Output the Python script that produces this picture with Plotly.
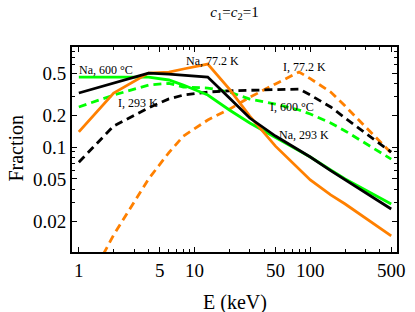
import numpy as np
import plotly.graph_objects as go

# Energy grid (keV)
energy = [1, 2, 4, 6, 8, 13, 20, 30, 50, 80, 100, 150, 200, 500]

# Fractions
na_600C = [0.458, 0.458, 0.458, 0.43, 0.385, 0.31, 0.224, 0.169, 0.124, 0.0925, 0.0805, 0.0607, 0.0499, 0.029]
na_293K = [0.324, 0.403, 0.50, 0.488, 0.478, 0.458, 0.29, 0.188, 0.127, 0.0933, 0.0805, 0.060, 0.0489, 0.026]
na_77K = [0.139, 0.324, 0.50, 0.51, 0.546, 0.608, 0.353, 0.196, 0.102, 0.062, 0.0489, 0.0353, 0.029, 0.0145]
i_293K = [0.072, 0.158, 0.234, 0.285, 0.31, 0.331, 0.34, 0.345, 0.35, 0.353, 0.31, 0.239, 0.188, 0.0897]
i_600C = [0.239, 0.31, 0.385, 0.40, 0.369, 0.361, 0.331, 0.284, 0.255, 0.224, 0.205, 0.169, 0.142, 0.077]
i_77K = [0.0036, 0.0148, 0.0499, 0.0887, 0.127, 0.18, 0.228, 0.295, 0.395, 0.511, 0.443, 0.331, 0.244, 0.0878]

x_ticks = [1, 5, 10, 50, 100, 500]
y_ticks = [0.02, 0.05, 0.1, 0.2, 0.5]
x_minor = [2, 3, 4, 6, 7, 8, 9, 20, 30, 40, 60, 70, 80, 90, 200, 300, 400]
y_minor = [0.03, 0.04, 0.06, 0.07, 0.08, 0.09, 0.3, 0.4, 0.6, 0.7, 0.8]

GREEN = "#00ff00"
ORANGE = "#ff8000"
BLACK = "#000000"
DASH = "8px,5px"
FONT = "Liberation Serif, Times New Roman, serif"

series = [
    ("I, 77.2 K", i_77K, ORANGE, DASH),
    ("I, 600 °C", i_600C, GREEN, DASH),
    ("I, 293 K", i_293K, BLACK, DASH),
    ("Na, 600 °C", na_600C, GREEN, "solid"),
    ("Na, 77.2 K", na_77K, ORANGE, "solid"),
    ("Na, 293 K", na_293K, BLACK, "solid"),
]

X_RANGE = [-0.059, 2.749]
Y_RANGE = [-1.991, -0.055]

fig = go.Figure()
for name, vals, col, dash in series:
    fig.add_trace(go.Scatter(x=energy, y=vals, mode="lines", name=name,
                             line=dict(color=col, width=2.8, dash=dash)))
# empty trace so the minor-tick overlay axes get drawn
fig.add_trace(go.Scatter(x=[], y=[], xaxis="x2", yaxis="y2", showlegend=False, hoverinfo="skip"))

labels = [
    ("Na, 600 °C", 1.72, 0.533),
    ("Na, 77.2 K", 14.3, 0.649),
    ("I, 77.2 K", 88.7, 0.570),
    ("I, 293 K", 3.27, 0.261),
    ("I, 600 °C", 68.9, 0.239),
    ("Na, 293 K", 88.7, 0.130),
]
ann = []
for txt, xe, yf in labels:
    ann.append(dict(text=txt, x=np.log10(xe), y=np.log10(yf), xref="x", yref="y",
                    xanchor="center", yanchor="middle",
                    showarrow=False, font=dict(size=12, color="black", family=FONT)))
ann.append(dict(text="Fraction", x=-0.172, y=0.505, xref="paper", yref="paper",
                xanchor="center", yanchor="middle",
                textangle=-90, showarrow=False, font=dict(size=20, color="black", family=FONT)))
ann.append(dict(text="E (keV)", x=0.5, y=-0.245, xref="paper", yref="paper",
                xanchor="center", yanchor="middle",
                showarrow=False, font=dict(size=20, color="black", family=FONT)))

axis_common = dict(type="log", showgrid=False, zeroline=False, showline=True,
                   linecolor="black", linewidth=1.8, mirror="allticks",
                   ticks="inside", ticklen=5, tickwidth=1.2, tickcolor="black",
                   tickfont=dict(size=19, color="black", family=FONT))

minor_common = dict(type="log", showgrid=False, zeroline=False, showline=False,
                    ticks="inside", ticklen=3, tickwidth=1, tickcolor="black",
                    mirror="ticks", showticklabels=False)

fig.update_layout(
    width=415, height=312,
    margin=dict(l=72, r=10, t=47, b=60),
    paper_bgcolor="white", plot_bgcolor="white",
    showlegend=False,
    font=dict(family=FONT, color="black"),
    title=dict(text="<i>c</i><sub>1</sub>=<i>c</i><sub>2</sub>=1", x=0.5, xref="paper",
               y=1 - 12 / 312, yref="container", yanchor="middle",
               font=dict(size=15, family=FONT, color="black")),
    xaxis=dict(**axis_common, range=X_RANGE, tickvals=x_ticks,
               ticktext=[str(v) for v in x_ticks], ticklabelstandoff=0),
    yaxis=dict(**axis_common, range=Y_RANGE, tickvals=y_ticks,
               ticktext=[str(v) for v in y_ticks]),
    xaxis2=dict(**minor_common, range=X_RANGE, tickvals=x_minor,
                overlaying="x", anchor="y2", side="bottom"),
    yaxis2=dict(**minor_common, range=Y_RANGE, tickvals=y_minor,
                overlaying="y", anchor="x2", side="left"),
    annotations=ann,
)

fig.write_html("out.html", config={"displayModeBar": False},
               post_script="document.body.style.margin='0';")
